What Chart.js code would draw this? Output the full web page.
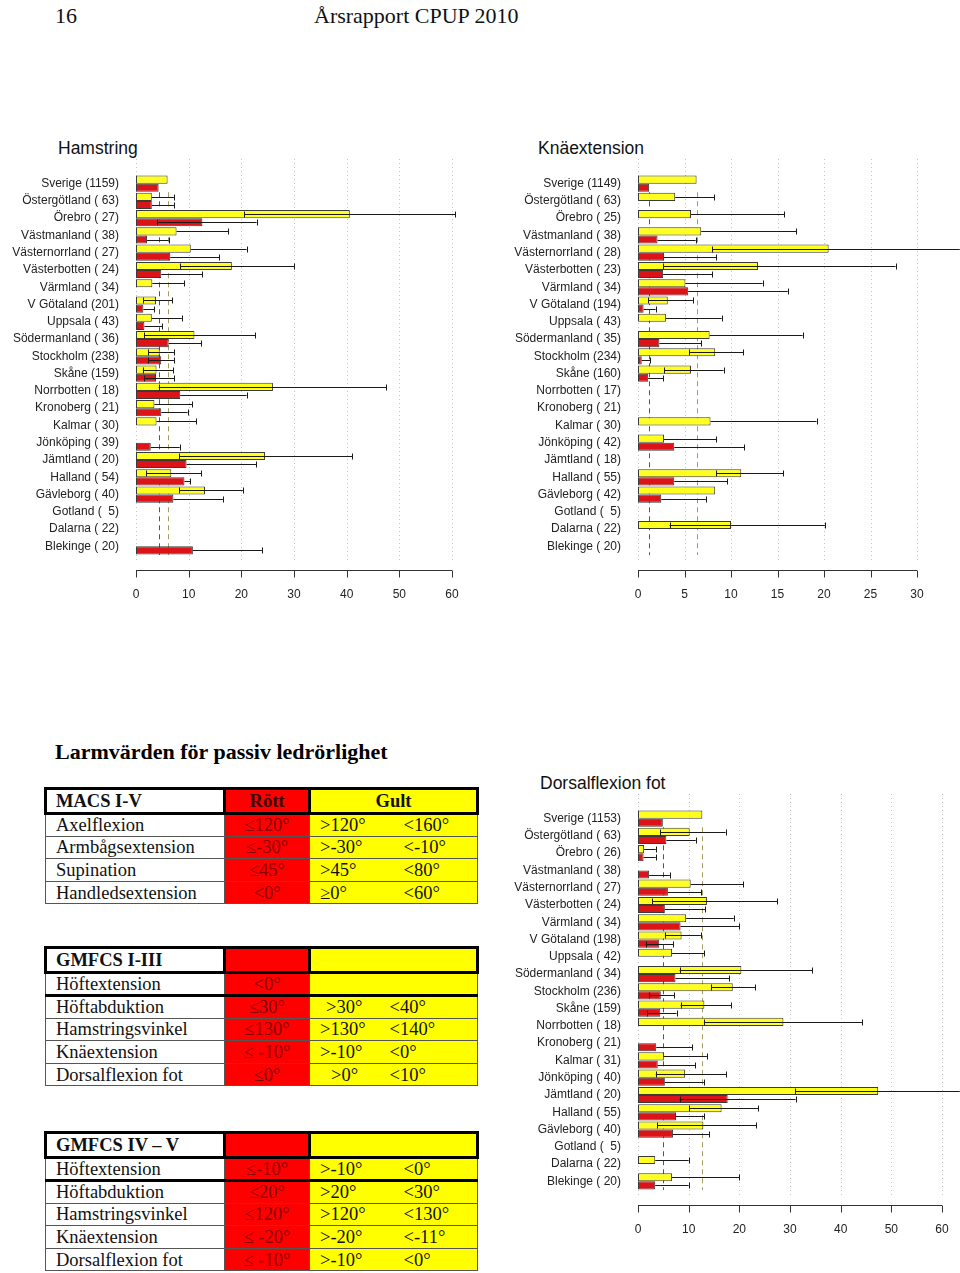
<!DOCTYPE html>
<html lang="sv">
<head>
<meta charset="utf-8">
<title>Årsrapport CPUP 2010 – sid 16</title>
<script src="https://cdn.jsdelivr.net/npm/chart.js@4.4.0/dist/chart.umd.min.js"></script>
<style>
  html, body { margin: 0; padding: 0; background: #fff; }
  #page { position: relative; width: 960px; height: 1273px; overflow: hidden; }
  .hdr { position: absolute; top: 3px; font: 22px/26px "Liberation Serif", "Times New Roman", serif; color: #111; }
  .ctitle { position: absolute; font: 17.5px/20px "Liberation Sans", Arial, sans-serif; color: #111; }
  .box { position: absolute; width: 460px; height: 480px; }
  .sect { position: absolute; left: 55px; top: 739px; font: bold 22px/26px "Liberation Serif", "Times New Roman", serif; color: #000; }
  table.lv { position: absolute; left: 44px; width: 432px; table-layout: fixed; border-collapse: collapse;
             font: 18.5px/20px "Liberation Serif", "Times New Roman", serif; color: #111; }
  table.lv td, table.lv th { border: 1px solid #555; padding: 0; white-space: nowrap; vertical-align: middle; }
  table.lv tr { height: 22.6px; }
  table.lv tr.hd { height: 25px; }
  table.lv tr.hd th { border: 3px solid #000; font-weight: bold; text-align: left; padding-left: 9px; }
  table.lv td:first-child { padding-left: 10px; background: #fff; }
  table.lv .r { background: #ff0000; color: #850000; text-align: center; }
  table.lv tr.hd th.r { color: #3c0000; text-align: center; padding-left: 0; }
  table.lv .y { background: #ffff00; }
  table.lv tr.hd th.y { text-align: center; padding-left: 0; }
  table.lv td.a { padding-left: 10px; border-right: hidden; }
  table.lv td.b { padding-left: 14px; }
  table.lv.t2 td.b { padding-left: 0; }
  table.lv tr.tk td { border-bottom: 3px solid #000; }
</style>
</head>
<body>
<div id="page">
  <div class="hdr" style="left:55px">16</div>
  <div class="hdr" style="left:314px">Årsrapport CPUP 2010</div>

  <div class="ctitle" style="left:58px; top:138px">Hamstring</div>
  <div class="box" style="left:0; top:130px; width:480px"><canvas id="hamChart"></canvas></div>

  <div class="ctitle" style="left:538px; top:138px">Knäextension</div>
  <div class="box" style="left:500px; top:130px"><canvas id="kneChart"></canvas></div>

  <div class="ctitle" style="left:540px; top:773px">Dorsalflexion fot</div>
  <div class="box" style="left:500px; top:765px"><canvas id="dorChart"></canvas></div>

  <div class="sect">Larmvärden för passiv ledrörlighet</div>

  <table class="lv" style="top:787px">
    <colgroup><col style="width:179px"><col style="width:85px"><col style="width:80px"><col style="width:88px"></colgroup>
    <tr class="hd"><th>MACS I-V</th><th class="r">Rött</th><th class="y" colspan="2">Gult</th></tr>
    <tr><td>Axelflexion</td><td class="r">≤120°</td><td class="y a">&gt;120°</td><td class="y b">&lt;160°</td></tr>
    <tr><td>Armbågsextension</td><td class="r">≤-30°</td><td class="y a">&gt;-30°</td><td class="y b">&lt;-10°</td></tr>
    <tr><td>Supination</td><td class="r">≤45°</td><td class="y a">&gt;45°</td><td class="y b">&lt;80°</td></tr>
    <tr><td>Handledsextension</td><td class="r">&lt;0°</td><td class="y a">≥0°</td><td class="y b">&lt;60°</td></tr>
  </table>

  <table class="lv t2" style="top:946px">
    <colgroup><col style="width:179px"><col style="width:85px"><col style="width:80px"><col style="width:88px"></colgroup>
    <tr class="hd"><th>GMFCS I-III</th><th class="r"></th><th class="y" colspan="2"></th></tr>
    <tr class="tk"><td>Höftextension</td><td class="r">&lt;0°</td><td class="y a"></td><td class="y b"></td></tr>
    <tr><td>Höftabduktion</td><td class="r">≤30°</td><td class="y a" style="padding-left:16px">&gt;30°</td><td class="y b">&lt;40°</td></tr>
    <tr><td>Hamstringsvinkel</td><td class="r">≤130°</td><td class="y a">&gt;130°</td><td class="y b">&lt;140°</td></tr>
    <tr><td>Knäextension</td><td class="r">≤ -10°</td><td class="y a">&gt;-10°</td><td class="y b">&lt;0°</td></tr>
    <tr><td>Dorsalflexion fot</td><td class="r">≤0°</td><td class="y a" style="padding-left:21px">&gt;0°</td><td class="y b">&lt;10°</td></tr>
  </table>

  <table class="lv" style="top:1131px">
    <colgroup><col style="width:179px"><col style="width:85px"><col style="width:80px"><col style="width:88px"></colgroup>
    <tr class="hd"><th>GMFCS IV – V</th><th class="r"></th><th class="y" colspan="2"></th></tr>
    <tr class="tk"><td>Höftextension</td><td class="r">≤-10°</td><td class="y a">&gt;-10°</td><td class="y b">&lt;0°</td></tr>
    <tr><td>Höftabduktion</td><td class="r">≤20°</td><td class="y a">&gt;20°</td><td class="y b">&lt;30°</td></tr>
    <tr><td>Hamstringsvinkel</td><td class="r">≤120°</td><td class="y a">&gt;120°</td><td class="y b">&lt;130°</td></tr>
    <tr><td>Knäextension</td><td class="r">≤ -20°</td><td class="y a">&gt;-20°</td><td class="y b">&lt;-11°</td></tr>
    <tr><td>Dorsalflexion fot</td><td class="r">≤ -10°</td><td class="y a">&gt;-10°</td><td class="y b">&lt;0°</td></tr>
  </table>
</div>

<script>
// regions, same order in all three charts
const regions = ['Sverige', 'Östergötland', 'Örebro', 'Västmanland', 'Västernorrland', 'Västerbotten',
  'Värmland', 'V Götaland', 'Uppsala', 'Södermanland', 'Stockholm', 'Skåne', 'Norrbotten', 'Kronoberg',
  'Kalmar', 'Jönköping', 'Jämtland', 'Halland', 'Gävleborg', 'Gotland', 'Dalarna', 'Blekinge'];

// Hamstring
const hamCounts   = [1159, 63, 27, 38, 27, 24, 34, 201, 43, 36, 238, 159, 18, 21, 30, 39, 20, 54, 40, 5, 22, 20];
const hamYellow   = [6.0, 3.0, 40.6, 7.7, 10.4, 18.2, 3.1, 3.8, 3.0, 11.1, 4.5, 3.9, 26.0, 3.5, 3.9, null, 24.5, 6.7, 13.1, null, null, null];
const hamYellowLo = [null, null, 20.5, null, null, 8.4, null, 1.4, null, 1.6, 2.3, 1.3, 4.3, null, null, null, 8.2, 1.9, 8.2, null, null, null];
const hamYellowHi = [null, 7.2, 60.6, 17.5, 21.0, 30.0, 9.1, 6.9, 8.7, 22.6, 7.2, 7.1, 47.5, 10.7, 11.4, null, 41.1, 12.4, 20.3, null, null, null];
const hamRed      = [4.3, 3.0, 12.6, 2.1, 6.5, 4.8, null, 1.4, 1.6, 6.2, 4.8, 3.8, 8.4, 4.8, null, 2.8, 9.6, 9.2, 7.1, null, null, 10.8];
const hamRedLo    = [null, null, 4.0, null, null, null, null, null, null, null, 2.3, 1.6, null, null, null, null, null, null, null, null, null, null];
const hamRedHi    = [null, 7.2, 22.9, 6.2, 15.8, 12.6, null, 3.5, 5.0, 12.4, 7.2, 7.3, 21.0, 9.8, null, 8.3, 22.8, 10.3, 16.5, null, null, 23.9];

// Knäextension
const kneCounts   = [1149, 63, 25, 38, 28, 23, 34, 194, 43, 35, 234, 160, 17, 21, 30, 42, 18, 55, 42, 5, 22, 20];
const kneYellow   = [6.3, 4.0, 5.7, 6.8, 20.5, 12.9, 5.1, 3.2, 3.0, 7.7, 8.3, 5.7, null, null, 7.8, 2.8, null, 11.1, 8.3, null, 10.0, null];
const kneYellowLo = [null, null, null, null, 8.0, 2.7, null, 1.1, null, null, 5.5, 2.8, null, null, null, null, null, 8.4, null, null, 3.4, null];
const kneYellowHi = [null, 8.2, 15.7, 17.0, 34.6, 27.7, 13.4, 5.9, 9.0, 17.7, 11.3, 9.2, null, null, 19.2, 8.4, null, 15.6, null, null, 20.1, null];
const kneRed      = [1.2, null, null, 2.1, 2.8, 2.7, 5.4, 0.6, null, 2.3, 0.4, 1.1, null, null, null, 3.9, null, 3.9, 2.5, null, null, null];
const kneRedLo    = regions.map(() => null);
const kneRedHi    = [null, null, null, 6.2, 8.4, 8.0, 16.1, 1.9, null, 6.8, 1.3, 2.7, null, null, null, 11.4, null, 9.6, 7.3, null, null, null];

// Dorsalflexion fot
const dorCounts   = [1153, 63, 26, 38, 27, 24, 34, 198, 42, 34, 236, 159, 18, 21, 31, 40, 20, 55, 40, 5, 22, 20];
const dorYellow   = [12.7, 10.2, 1.2, null, 10.4, 13.6, 9.5, 8.6, 6.7, 20.4, 18.7, 13.1, 28.7, null, 5.1, 9.3, 47.4, 16.5, 12.9, null, 3.4, 6.7];
const dorYellowLo = [null, 4.4, null, null, null, 2.8, null, 5.3, null, 8.2, 14.4, 8.4, 13.0, null, null, 3.5, 31.0, 10.1, 3.8, null, null, null];
const dorYellowHi = [null, 17.3, 3.5, null, 20.8, 27.5, 18.9, 12.4, 13.1, 34.4, 23.1, 18.4, 44.2, null, 13.6, 17.4, 63.5, 23.7, 23.3, null, 10.0, 20.0];
const dorRed      = [4.9, 5.6, 1.1, 2.2, 5.9, 5.3, 8.4, 4.2, null, 7.4, 4.5, 4.4, null, 3.6, 3.9, 5.3, 17.7, 7.5, 6.9, null, null, 3.4];
const dorRedLo    = [null, null, null, null, null, null, null, 1.5, null, null, 2.1, 1.8, null, null, null, null, 8.2, null, null, null, null, null];
const dorRedHi    = [null, 11.4, 3.5, 6.3, 12.5, 13.3, 20.0, 7.0, null, 18.0, 7.1, 7.6, null, 10.7, 11.3, 13.0, 31.1, 13.1, 14.0, null, null, 10.0];

const FONT = { family: '"Liberation Sans", Arial, sans-serif', size: 12 };
const YELLOW = '#ffff1e';
const RED = '#dc1418';

// grid, national reference lines, error bars and the detached R-style axis
const extras = {
  id: 'extras',
  beforeDatasetsDraw(chart) {
    const { ctx, chartArea: a, scales: { x } } = chart;
    ctx.save();
    ctx.lineWidth = 1;
    ctx.strokeStyle = '#c4c4c4';
    ctx.setLineDash([1, 3]);
    x.ticks.forEach(t => {
      const px = Math.round(x.getPixelForValue(t.value)) + 0.5;
      ctx.beginPath(); ctx.moveTo(px, a.top - 16); ctx.lineTo(px, a.bottom + 8); ctx.stroke();
    });
    // dashed lines at Sverige values
    const band = (a.bottom - a.top) / chart.data.labels.length;
    const refs = [[chart.data.datasets[1].data[0], '#9a3838'], [chart.data.datasets[0].data[0], '#a39c5c']];
    ctx.setLineDash([5, 4]);
    refs.forEach(([v, c]) => {
      const px = Math.round(x.getPixelForValue(v)) + 0.5;
      ctx.strokeStyle = c;
      ctx.beginPath(); ctx.moveTo(px, a.top + band); ctx.lineTo(px, a.bottom); ctx.stroke();
    });
    ctx.restore();
  },
  afterDatasetsDraw(chart) {
    const { ctx, scales: { x } } = chart;
    ctx.save();
    ctx.strokeStyle = '#1a1a1a';
    ctx.lineWidth = 1;
    chart.data.datasets.forEach((ds, di) => {
      const meta = chart.getDatasetMeta(di);
      meta.data.forEach((el, i) => {
        const v = ds.data[i], hi = ds.hi[i], lo = ds.lo[i];
        if (v == null || hi == null) return;
        const y = Math.round(el.y) + 0.5;
        const x1 = x.getPixelForValue(lo != null ? lo : v);
        const x2 = x.getPixelForValue(hi);
        ctx.beginPath(); ctx.moveTo(x1, y); ctx.lineTo(x2, y); ctx.stroke();
        ctx.beginPath(); ctx.moveTo(Math.round(x2) + 0.5, y - 3); ctx.lineTo(Math.round(x2) + 0.5, y + 3); ctx.stroke();
        if (lo != null) {
          ctx.beginPath(); ctx.moveTo(Math.round(x1) + 0.5, y - 3); ctx.lineTo(Math.round(x1) + 0.5, y + 3); ctx.stroke();
        }
      });
    });
    ctx.restore();
  },
  afterDraw(chart) {
    const { ctx, chartArea: a, scales: { x } } = chart;
    const y0 = Math.round(a.bottom + 15) + 0.5;
    ctx.save();
    ctx.strokeStyle = '#333';
    ctx.lineWidth = 1;
    ctx.beginPath();
    ctx.moveTo(x.getPixelForValue(x.min), y0); ctx.lineTo(x.getPixelForValue(x.max), y0);
    x.ticks.forEach(t => {
      const px = Math.round(x.getPixelForValue(t.value)) + 0.5;
      ctx.moveTo(px, y0); ctx.lineTo(px, y0 + 7);
    });
    ctx.stroke();
    ctx.restore();
  }
};

function makeChart(id, counts, yellow, yellowLo, yellowHi, red, redLo, redHi, maxX, step, axisWidth, padRight) {
  const labels = regions.map((r, i) => r + ' (' + String(counts[i]).padStart(3, ' ') + ')');
  new Chart(document.getElementById(id), {
    type: 'bar',
    data: {
      labels: labels,
      datasets: [
        { data: yellow, lo: yellowLo, hi: yellowHi, backgroundColor: YELLOW, borderColor: '#3a3a3a',
          borderWidth: 1, borderSkipped: false, categoryPercentage: 0.94, barPercentage: 1 },
        { data: red, lo: redLo, hi: redHi, backgroundColor: RED, borderColor: '#3a3a3a',
          borderWidth: 1, borderSkipped: false, categoryPercentage: 0.94, barPercentage: 1 }
      ]
    },
    options: {
      indexAxis: 'y',
      responsive: true,
      maintainAspectRatio: false,
      animation: false,
      layout: { padding: { top: 45, right: padRight, bottom: 0, left: 0 } },
      plugins: { legend: { display: false }, tooltip: { enabled: false } },
      scales: {
        x: {
          type: 'linear', min: 0, max: maxX,
          // tick length (not drawn) pushes labels below the detached axis line
          ticks: { stepSize: step, padding: 0, color: '#222', font: FONT },
          grid: { display: false, drawTicks: true, tickLength: 32 },
          border: { display: false },
          afterFit(s) { s.height = 55; }
        },
        y: {
          ticks: { padding: 17, autoSkip: false, color: '#222', font: FONT },
          grid: { display: false, drawTicks: false },
          border: { display: false },
          afterFit(s) { s.width = axisWidth; }
        }
      }
    },
    plugins: [extras]
  });
}

makeChart('hamChart', hamCounts, hamYellow, hamYellowLo, hamYellowHi, hamRed, hamRedLo, hamRedHi, 60, 10, 136, 28);
makeChart('kneChart', kneCounts, kneYellow, kneYellowLo, kneYellowHi, kneRed, kneRedLo, kneRedHi, 30, 5, 138, 43);
makeChart('dorChart', dorCounts, dorYellow, dorYellowLo, dorYellowHi, dorRed, dorRedLo, dorRedHi, 60, 10, 138, 18);
</script>
</body>
</html>
